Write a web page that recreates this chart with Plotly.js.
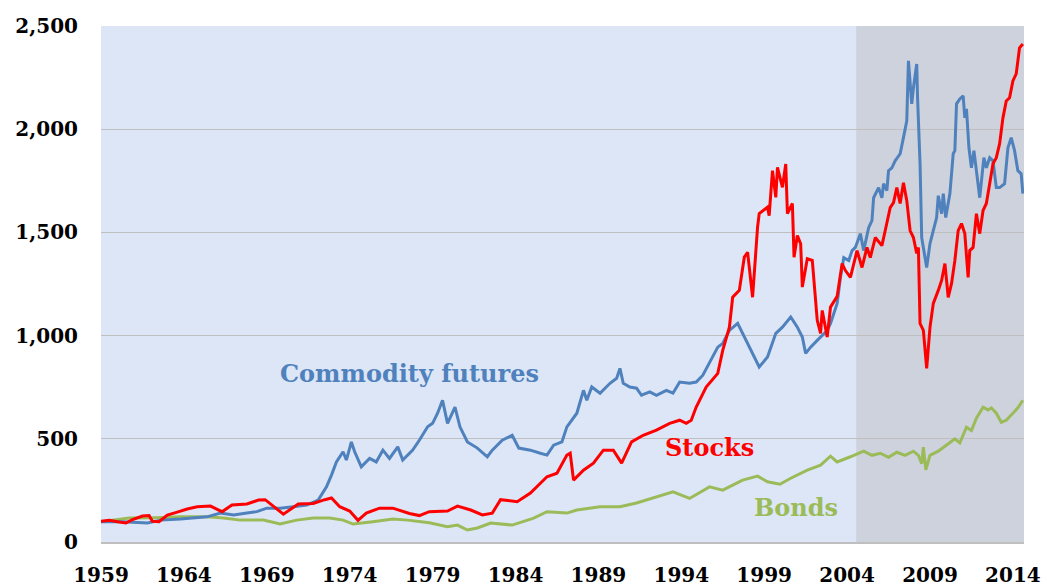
<!DOCTYPE html>
<html>
<head>
<meta charset="utf-8">
<script src="https://cdn.plot.ly/plotly-3.0.1.min.js"></script>
<style>
  html, body { margin: 0; padding: 0; background: #ffffff; }
  #chart { width: 1047px; height: 586px; }
</style>
</head>
<body>
<div id="chart"></div>
<script>
// ---- Data ----
const tickYears = [1959, 1964, 1969, 1974, 1979, 1984, 1989, 1994, 1999, 2004, 2009, 2014];
const tickLabels = ["1959", "1964", "1969", "1974", "1979", "1984", "1989", "1994", "1999", "2004", "2009", "2014"];

const stocksYears = [1959.0, 1959.5, 1960.0, 1960.5, 1960.9, 1961.5, 1961.9, 1962.1, 1962.5, 1963.0, 1963.6, 1964.2, 1964.8, 1965.6, 1966.3, 1966.9, 1967.8, 1968.5, 1968.9, 1969.2, 1970.0, 1970.9, 1971.8, 1972.5, 1972.9, 1973.4, 1974.0, 1974.5, 1975.0, 1975.8, 1976.6, 1977.6, 1978.2, 1978.8, 1979.9, 1980.5, 1981.3, 1982.0, 1982.6, 1983.1, 1984.1, 1984.9, 1985.9, 1986.5, 1987.1, 1987.3, 1987.5, 1988.1, 1988.7, 1989.3, 1989.9, 1990.4, 1991.0, 1991.7, 1992.5, 1993.3, 1993.9, 1994.3, 1994.6, 1994.9, 1995.5, 1996.2, 1996.5, 1996.9, 1997.1, 1997.5, 1997.8, 1998.0, 1998.3, 1998.6, 1998.7, 1999.2, 1999.3, 1999.5, 1999.7, 1999.8, 2000.1, 2000.3, 2000.4, 2000.7, 2000.8, 2001.0, 2001.2, 2001.3, 2001.6, 2001.9, 2002.0, 2002.2, 2002.4, 2002.5, 2002.8, 2003.0, 2003.4, 2003.7, 2003.9, 2004.2, 2004.6, 2004.9, 2005.2, 2005.4, 2005.7, 2006.1, 2006.3, 2006.6, 2006.8, 2007.0, 2007.2, 2007.4, 2007.6, 2007.8, 2008.0, 2008.2, 2008.3, 2008.4, 2008.6, 2008.8, 2009.0, 2009.2, 2009.5, 2009.7, 2009.9, 2010.1, 2010.3, 2010.5, 2010.7, 2010.9, 2011.1, 2011.3, 2011.4, 2011.6, 2011.8, 2012.0, 2012.2, 2012.4, 2012.6, 2012.8, 2013.0, 2013.2, 2013.4, 2013.6, 2013.8, 2014.0, 2014.2, 2014.4, 2014.6];
const stocksValues = [100, 105, 98, 92, 108, 126, 128, 100, 98, 130, 145, 160, 171, 174, 147, 179, 184, 203, 205, 185, 135, 184, 187, 205, 213, 171, 150, 105, 140, 164, 164, 138, 128, 147, 150, 174, 155, 131, 140, 205, 195, 237, 316, 333, 421, 430, 300, 348, 382, 445, 445, 382, 485, 517, 542, 575, 590, 575, 590, 654, 751, 817, 928, 1041, 1186, 1219, 1380, 1404, 1186, 1525, 1591, 1622, 1581, 1799, 1670, 1815, 1718, 1831, 1591, 1640, 1380, 1485, 1445, 1235, 1372, 1364, 1267, 1074, 1011, 1122, 993, 1138, 1190, 1349, 1315, 1282, 1412, 1330, 1427, 1378, 1475, 1436, 1509, 1620, 1644, 1717, 1640, 1741, 1654, 1509, 1475, 1398, 1427, 1059, 1025, 841, 1040, 1156, 1219, 1267, 1349, 1185, 1253, 1364, 1509, 1543, 1494, 1282, 1412, 1427, 1591, 1494, 1606, 1640, 1736, 1833, 1862, 1930, 2055, 2137, 2152, 2234, 2268, 2394, 2413];

const commodYears = [1959.0, 1960.3, 1961.8, 1962.6, 1963.8, 1964.5, 1965.4, 1966.2, 1967.0, 1967.8, 1968.4, 1969.0, 1969.8, 1970.6, 1971.4, 1972.1, 1972.6, 1972.9, 1973.2, 1973.6, 1973.8, 1974.1, 1974.3, 1974.7, 1975.2, 1975.6, 1976.0, 1976.4, 1976.9, 1977.2, 1977.8, 1978.2, 1978.7, 1979.0, 1979.3, 1979.6, 1979.9, 1980.35, 1980.65, 1981.1, 1981.7, 1982.3, 1982.6, 1983.2, 1983.8, 1984.2, 1984.9, 1985.5, 1985.9, 1986.3, 1986.8, 1987.1, 1987.7, 1988.1, 1988.3, 1988.6, 1989.1, 1989.7, 1990.1, 1990.3, 1990.5, 1990.9, 1991.3, 1991.6, 1992.1, 1992.5, 1993.1, 1993.5, 1993.9, 1994.5, 1994.9, 1995.3, 1995.7, 1996.2, 1996.5, 1996.9, 1997.4, 1997.7, 1998.3, 1998.7, 1999.2, 1999.7, 2000.1, 2000.6, 2001.0, 2001.3, 2001.5, 2001.8, 2002.2, 2002.8, 2003.0, 2003.4, 2003.6, 2003.8, 2004.1, 2004.3, 2004.5, 2004.8, 2005.0, 2005.3, 2005.5, 2005.6, 2005.9, 2006.1, 2006.2, 2006.4, 2006.5, 2006.7, 2006.9, 2007.2, 2007.4, 2007.6, 2007.7, 2007.9, 2008.0, 2008.2, 2008.25, 2008.4, 2008.5, 2008.6, 2008.8, 2009.0, 2009.2, 2009.4, 2009.5, 2009.7, 2009.8, 2009.95, 2010.2, 2010.4, 2010.5, 2010.6, 2010.8, 2011.0, 2011.1, 2011.2, 2011.35, 2011.5, 2011.65, 2011.8, 2012.0, 2012.25, 2012.4, 2012.6, 2012.8, 2013.0, 2013.2, 2013.5, 2013.7, 2013.9, 2014.1, 2014.3, 2014.5, 2014.6];
const commodValues = [98, 98, 92, 106, 111, 116, 122, 140, 131, 140, 147, 164, 164, 171, 179, 203, 267, 324, 388, 437, 397, 485, 437, 364, 405, 388, 445, 405, 461, 397, 445, 493, 558, 575, 624, 687, 575, 654, 558, 485, 455, 413, 445, 493, 517, 455, 445, 430, 421, 469, 485, 558, 624, 735, 687, 751, 721, 769, 793, 841, 769, 751, 745, 711, 727, 711, 735, 721, 775, 769, 775, 808, 866, 944, 962, 1025, 1059, 1011, 914, 848, 896, 1011, 1041, 1090, 1041, 993, 914, 944, 977, 1025, 1059, 1156, 1282, 1378, 1364, 1412, 1427, 1494, 1412, 1523, 1557, 1668, 1717, 1668, 1736, 1702, 1799, 1813, 1847, 1881, 1959, 2041, 2331, 2123, 2200, 2316, 2152, 1833, 1475, 1427, 1330, 1446, 1509, 1572, 1678, 1591, 1688, 1572, 1688, 1881, 1896, 2123, 2147, 2162, 2055, 2099, 1910, 1813, 1896, 1799, 1668, 1862, 1813, 1862, 1847, 1717, 1717, 1736, 1910, 1959, 1896, 1799, 1784, 1688];

const bondsYears = [1959.0, 1960.7, 1962.3, 1963.8, 1965.4, 1966.4, 1967.4, 1968.8, 1969.8, 1970.8, 1971.8, 1972.8, 1973.6, 1974.2, 1975.4, 1976.6, 1977.5, 1978.8, 1979.9, 1980.5, 1981.1, 1981.7, 1982.5, 1983.8, 1985.1, 1985.9, 1987.1, 1987.7, 1989.1, 1990.3, 1991.3, 1992.5, 1993.5, 1994.5, 1995.7, 1996.5, 1997.1, 1997.7, 1998.6, 1999.2, 1999.95, 2000.6, 2001.6, 2002.4, 2003.0, 2003.4, 2004.2, 2004.7, 2005.0, 2005.5, 2006.0, 2006.5, 2007.0, 2007.5, 2008.0, 2008.3, 2008.5, 2008.6, 2008.75, 2009.0, 2009.5, 2010.0, 2010.5, 2010.8, 2011.2, 2011.5, 2011.8, 2012.2, 2012.5, 2012.7, 2013.0, 2013.3, 2013.6, 2014.0, 2014.3, 2014.6];
const bondsValues = [98, 116, 118, 122, 122, 116, 106, 106, 87, 106, 116, 116, 106, 87, 98, 111, 106, 93, 74, 82, 58, 68, 92, 82, 116, 147, 140, 155, 171, 171, 189, 219, 243, 211, 267, 251, 276, 300, 319, 292, 280, 309, 348, 372, 416, 388, 413, 430, 440, 420, 430, 410, 435, 420, 440, 420, 380, 460, 350, 420, 440, 470, 500, 480, 556, 540, 600, 653, 640, 650, 624, 580, 590, 624, 650, 687];

// ---- Chart ----
const blue = '#4F81BD', red = '#FF0000', green = '#9BBB59';
const tickFont = {family: 'DejaVu Serif', size: 20, color: '#000000', weight: 'bold'};
const labelFont = (c) => ({family: 'DejaVu Serif', size: 24, color: c, weight: 'bold'});

const traces = [
  {x: bondsYears, y: bondsValues, type: 'scatter', mode: 'lines', name: 'Bonds',
   line: {color: green, width: 3}},
  {x: commodYears, y: commodValues, type: 'scatter', mode: 'lines', name: 'Commodity futures',
   line: {color: blue, width: 3}},
  {x: stocksYears, y: stocksValues, type: 'scatter', mode: 'lines', name: 'Stocks',
   line: {color: red, width: 3}}
];

const layout = {
  width: 1047, height: 586,
  margin: {l: 101, r: 23, t: 26, b: 44, pad: 0},
  paper_bgcolor: '#ffffff',
  plot_bgcolor: 'rgb(220,230,246)',
  showlegend: false,
  xaxis: {
    type: 'linear', range: [1959, 2014.67],
    tickmode: 'array', tickvals: tickYears, ticktext: tickLabels,
    showgrid: false, zeroline: false,
    showline: true, linecolor: '#BFBFBF', linewidth: 2,
    ticks: '', ticklabelstandoff: 14,
    tickfont: tickFont
  },
  yaxis: {
    range: [0, 2500], dtick: 500, tick0: 0,
    tickformat: ',d',
    showgrid: true, gridcolor: '#BFBFBF', gridwidth: 1,
    zeroline: false, showline: false,
    ticks: '', ticklabelstandoff: 22,
    tickfont: tickFont
  },
  shapes: [
    {type: 'rect', xref: 'x', yref: 'paper', x0: 2004.55, x1: 2014.67, y0: 0, y1: 1,
     fillcolor: 'rgb(205,210,221)', line: {width: 0}, layer: 'below'}
  ],
  annotations: [
    {x: 1977.6, y: 817, xref: 'x', yref: 'y', text: 'Commodity futures', showarrow: false,
     font: labelFont(blue)},
    {x: 1995.7, y: 459, xref: 'x', yref: 'y', text: 'Stocks', showarrow: false,
     font: labelFont(red)},
    {x: 2000.9, y: 169, xref: 'x', yref: 'y', text: 'Bonds', showarrow: false,
     font: labelFont(green)}
  ]
};

Plotly.newPlot('chart', traces, layout, {displayModeBar: false, staticPlot: true});
</script>
</body>
</html>
